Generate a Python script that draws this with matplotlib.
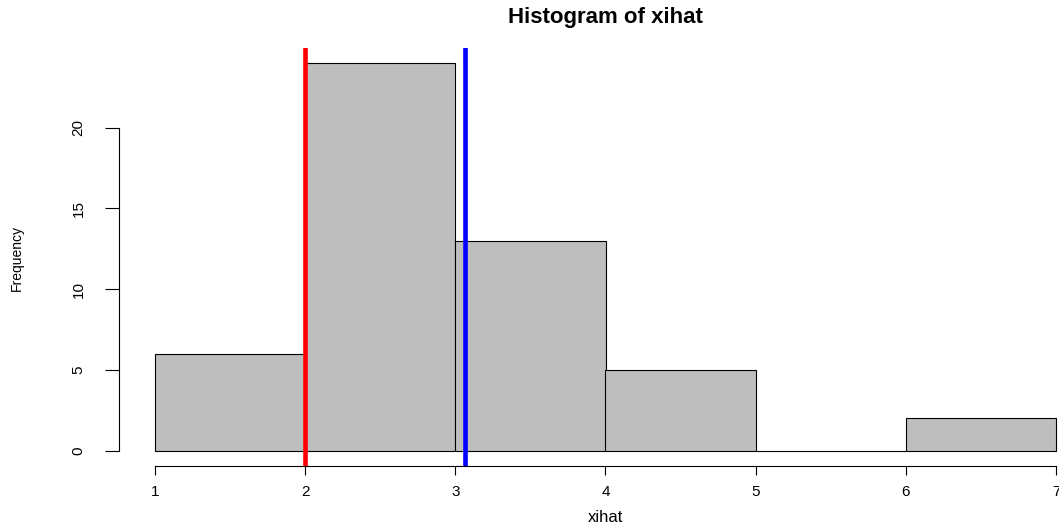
import matplotlib
matplotlib.use("Agg")
import matplotlib.pyplot as plt

# Data
bin_edges = [1, 2, 3, 4, 5, 6, 7]
counts = [6, 24, 13, 5, 0, 2]
red_line_x = 2.0
blue_line_x = 3.062
x_ticks = [1, 2, 3, 4, 5, 6, 7]
y_ticks = [0, 5, 10, 15, 20]
title = "Histogram of xihat"
xlabel = "xihat"
ylabel = "Frequency"

plt.rcParams['font.family'] = ['Liberation Sans', 'DejaVu Sans']

W, H = 1059, 529
fig = plt.figure(figsize=(W / 100, H / 100), dpi=100)
ax = fig.add_axes([119 / W, (H - 466.2) / H, 973 / W, (466.2 - 47.6) / H])

lefts = bin_edges[:-1]
widths = [b - a for a, b in zip(bin_edges[:-1], bin_edges[1:])]
ax.bar(lefts, counts, width=widths, align='edge', color='#BEBEBE',
       edgecolor='black', linewidth=0.8, zorder=2)

ax.axvline(red_line_x, color='#FF0000', linewidth=3.3, zorder=3)
ax.axvline(blue_line_x, color='#0000FF', linewidth=3.3, zorder=3)

xmin, xmax = bin_edges[0], bin_edges[-1]
ymax = max(counts)
ax.set_xlim(xmin - 0.04 * (xmax - xmin), xmax + 0.04 * (xmax - xmin))
ax.set_ylim(-0.04 * ymax, ymax * 1.04)

for s in ['top', 'right']:
    ax.spines[s].set_visible(False)
ax.spines['bottom'].set_bounds(x_ticks[0], x_ticks[-1])
ax.spines['left'].set_bounds(y_ticks[0], y_ticks[-1])
ax.spines['bottom'].set_linewidth(0.8)
ax.spines['left'].set_linewidth(0.8)

ax.set_xticks(x_ticks)
ax.set_xticklabels([str(v) for v in x_ticks])
ax.set_yticks(y_ticks)
ax.set_yticklabels([str(v) for v in y_ticks])
ax.tick_params(axis='x', length=6.5, width=0.8, pad=7, labelsize=11)
ax.tick_params(axis='y', length=10, width=0.8, pad=14, labelsize=11,
               labelrotation=90)
for lab in ax.get_yticklabels():
    lab.set_va('center')

fig.text(605.5 / W, 1 - 17 / H, title, ha='center', va='center',
         fontsize=16, fontweight='bold')
fig.text(606 / W, 1 - 518 / H, xlabel, ha='center', va='center',
         fontsize=12)
fig.text(17 / W, 1 - 258 / H, ylabel, ha='center', va='center',
         fontsize=10, rotation=90)

fig.savefig("out.png", dpi=100)
